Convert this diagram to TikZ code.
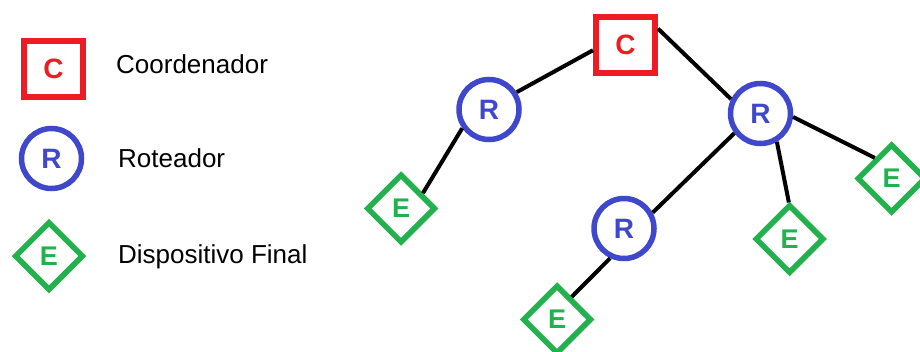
\documentclass[tikz,border=0pt]{standalone}
\usepackage{fontspec}
\setmainfont{Liberation Sans}
\usetikzlibrary{shapes.geometric}
\definecolor{pred}{HTML}{ED1C24}
\definecolor{pblue}{HTML}{3F48CC}
\definecolor{pgreen}{HTML}{22B14C}
\tikzset{
  coordbox/.style={draw=pred, line width=6pt, fill=white, minimum width=59pt, minimum height=56pt, inner sep=0pt, text=pred, font=\fontsize{28}{28}\selectfont\bfseries},
  routerbox/.style={circle, draw=pblue, line width=5.5pt, fill=white, minimum size=60pt, inner sep=0pt, text=pblue, font=\fontsize{28}{28}\selectfont\bfseries},
  endbox/.style={diamond, draw=pgreen, line width=5.5pt, fill=white, minimum width=69pt, minimum height=69pt, inner sep=0pt, text=pgreen, font=\fontsize{27}{27}\selectfont\bfseries},
  legendtext/.style={anchor=base west, inner sep=0pt, font=\fontsize{26}{26}\selectfont},
  link/.style={draw=black, line width=4pt}
}
\begin{document}
\begin{tikzpicture}[x=1pt,y=-1pt]
\useasboundingbox (0,0) rectangle (920,351);
% legend
\node[coordbox] (lc) at (53.5,68.5) {C};
\node[routerbox] (lr) at (51.5,158.5) {R};
\node[endbox] (le) at (49,256) {E};
\node[legendtext] (tc) at (116,73.5) {Coordenador};
\node[legendtext] (tr) at (118,167.7) {Roteador};
\node[legendtext] (te) at (118,263) {Dispositivo Final};
% tree
\node[coordbox] (c) at (625.5,44.5) {C};
\node[routerbox] (r1) at (489,109.5) {R};
\node[routerbox] (r2) at (760.5,113.5) {R};
\node[routerbox] (r3) at (624,228.5) {R};
\node[endbox] (e1) at (401,208.5) {E};
\node[endbox] (e2) at (557,319.5) {E};
\node[endbox] (e3) at (789.5,239) {E};
\node[endbox] (e4) at (891.5,178.5) {E};
% connectors
\draw[link] (c.190) -- (r1.32);
\draw[link] (c.26) -- (r2.154);
\draw[link] (r1.215) -- (e1.35);
\draw[link] (r2.217) -- (r3.29);
\draw[link] (r3.245) -- (e2.57);
\draw[link] (r2.300) -- (e3.91);
\draw[link] (r2.354) -- (e4.129);
\end{tikzpicture}
\end{document}
